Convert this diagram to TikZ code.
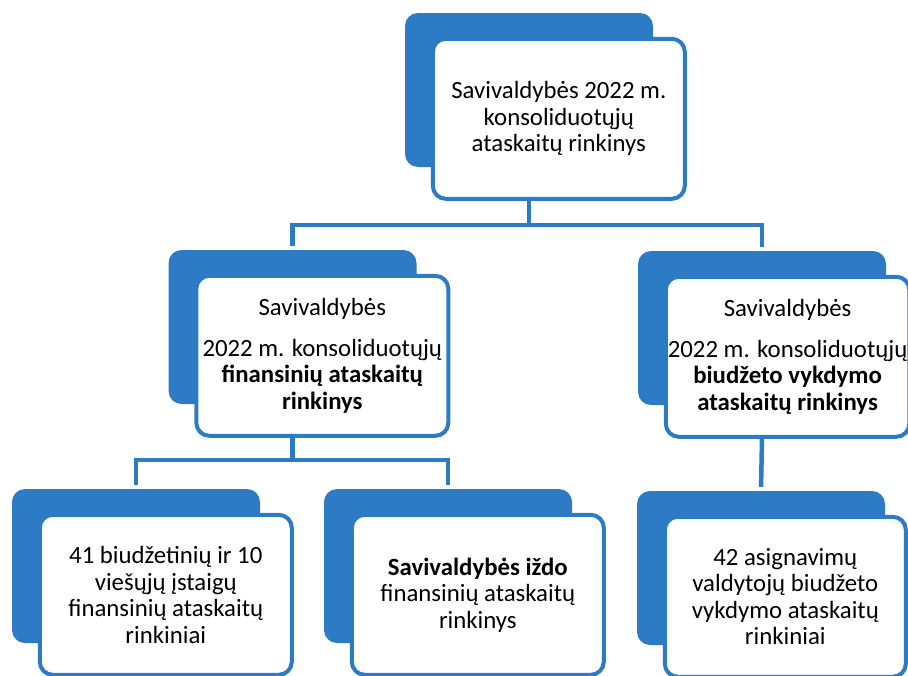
\documentclass[tikz,border=0pt]{standalone}
\usepackage{fontspec}
\setmainfont{Carlito}
\usetikzlibrary{positioning}
\definecolor{boxblue}{RGB}{44,123,196}
\tikzset{
	every node/.style = {font=\fontsize{24.8}{26.5}\selectfont, inner sep = 2},
	every text node part/.style={align=center},
	shadowbox/.style={fill=boxblue, rounded corners=13pt, minimum width=248pt, minimum height=154pt},
	cardbox/.style={draw=boxblue, fill=white, line width=4pt, rounded corners=13pt, minimum width=252pt, minimum height=160pt, text=black},
	narrow/.style={minimum width=241pt},
	wire/.style={draw=boxblue, line width=4.5pt},
	gap/.style={shorten <=4pt, shorten >=4pt}
}

\begin{document}
\begin{tikzpicture}[x=1pt, y=-1pt]
		\useasboundingbox (0,0) rectangle (908,675);
		
		\node(topback)[shadowbox] at (529,90) {};
		\node(midlback)[shadowbox] at (292.5,327) {};
		\node(midrback)[shadowbox] at (762,328) {};
		\node(botlback)[shadowbox] at (136,566) {};
		\node(botmback)[shadowbox] at (448,566) {};
		\node(botrback)[shadowbox] at (761,568) {};
		
		\node(top)[cardbox, below right=24pt and 26pt of topback.north west] {Savivaldybės 2022 m.\\konsoliduotųjų\\ataskaitų rinkinys};
		\node(midl)[cardbox, below right=24pt and 26pt of midlback.north west] {Savivaldybės\\[14pt]2022 m. konsoliduotųjų\\\textbf{finansinių ataskaitų}\\\textbf{rinkinys}};
		\node(midr)[cardbox, narrow, below right=24pt and 26pt of midrback.north west] {Savivaldybės\\[14pt]2022 m. konsoliduotųjų\\\textbf{biudžeto vykdymo}\\\textbf{ataskaitų rinkinys}};
		\node(botl)[cardbox, below right=24pt and 26pt of botlback.north west] {41 biudžetinių ir 10\\viešųjų įstaigų\\finansinių ataskaitų\\rinkiniai};
		\node(botm)[cardbox, below right=24pt and 26pt of botmback.north west] {\textbf{Savivaldybės iždo}\\finansinių ataskaitų\\rinkinys};
		\node(botr)[cardbox, narrow, below right=24pt and 26pt of botrback.north west] {42 asignavimų\\valdytojų biudžeto\\vykdymo ataskaitų\\rinkiniai};
		
		\coordinate (bus1) at (529,225);
		\coordinate (bus2) at (292.5,460);
		
		\draw[wire] (top.south -| topback) -- (bus1);
		\draw[wire, gap] (midlback.north) |- (bus1) -| (midrback.north);
		\draw[wire] (midl.south -| midlback) -- (bus2);
		\draw[wire, gap] (botlback.north) |- (bus2) -| (botmback.north);
		\draw[wire, shorten >=4pt] (midr.south -| midrback) -- (botrback.north);
\end{tikzpicture}
\end{document}
